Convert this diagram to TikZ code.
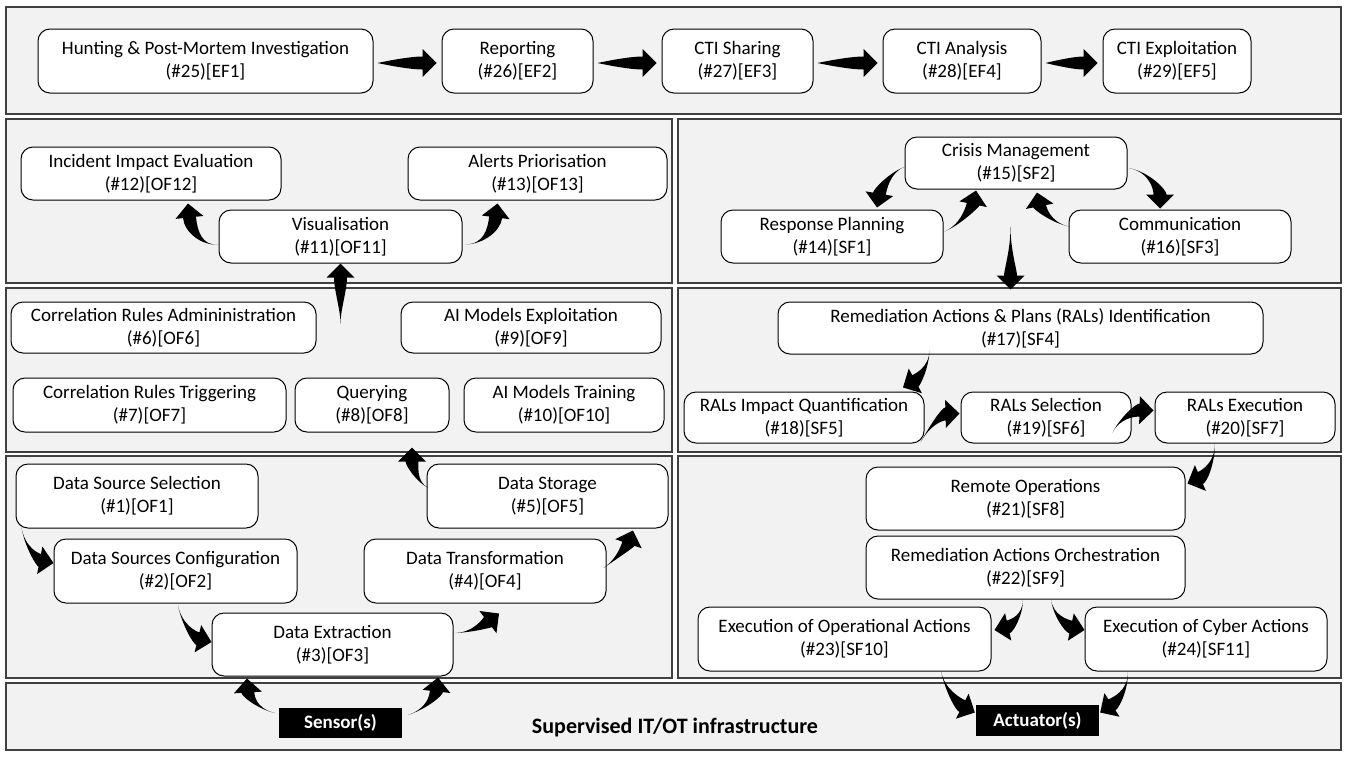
\documentclass[tikz,border=0pt]{standalone}
\usepackage{fontspec}
\setmainfont{Carlito}
\usetikzlibrary{calc}
\def\bw{6.5pt}\def\hl{14pt}\def\hw{14pt}
\newcommand\farr[4]{%
 \coordinate (fT) at (#1); \coordinate (fA) at (#2); \coordinate (fB) at (#3); \coordinate (fP) at (#4);
 \fill[black] let \p1=(fB), \p2=(fP), \n1={atan2(\y2-\y1,\x2-\x1)} in
  (fT) .. controls (fA) and ($(fB)+({\n1+90}:\bw)$) .. ($(fP)+({\n1+180}:\hl)+({\n1+90}:\bw)$)
  -- ($(fP)+({\n1+180}:\hl)+({\n1+90}:\hw)$)
  -- (fP)
  -- ($(fP)+({\n1+180}:\hl)+({\n1-90}:\hw)$)
  -- ($(fP)+({\n1+180}:\hl)+({\n1-90}:\bw)$)
  .. controls ($(fB)+({\n1-90}:\bw)$) and (fA) .. (fT) -- cycle;}
\newcommand\sarr[2]{%
 \coordinate (sT) at (#1); \coordinate (sP) at (#2);
 \farr{sT}{sT}{$(sT)!0.5!(sP)$}{sP}}
\begin{document}
\begin{tikzpicture}[x=1pt,y=-1pt,
  panel/.style={draw=black!75,line width=1.5pt,fill=black!5},
  box/.style={draw=black,line width=1pt,fill=white,rounded corners=12pt,align=center,
    font=\fontsize{19}{23}\selectfont,inner sep=0pt},
  blk/.style={fill=black,text=white,font=\fontsize{19}{22}\selectfont\bfseries,inner sep=0pt,
    minimum width=123pt,minimum height=30pt}]
\useasboundingbox (0,0) rectangle (1346,756);
\fill[white] (0,0) rectangle (1346,756);
% panels
\draw[panel] (6,7) rectangle (1341,114);
\draw[panel] (6,119) rectangle (672,283);
\draw[panel] (678,119) rectangle (1341,283);
\draw[panel] (6,288) rectangle (672,452);
\draw[panel] (678,288) rectangle (1341,452);
\draw[panel] (6,456) rectangle (672,678);
\draw[panel] (678,456) rectangle (1341,678);
\draw[panel] (6,683) rectangle (1341,750);
% top row
\node[box,minimum width=335pt,minimum height=64pt] (hunt) at (205.5,61) {Hunting \& Post-Mortem Investigation\\(\#25)[EF1]};
\node[box,minimum width=151pt,minimum height=64pt] (rep) at (517.5,61) {Reporting\\(\#26)[EF2]};
\node[box,minimum width=151pt,minimum height=64pt] (share) at (737.5,61) {CTI Sharing\\(\#27)[EF3]};
\node[box,minimum width=158pt,minimum height=64pt] (anal) at (962,61) {CTI Analysis\\(\#28)[EF4]};
\node[box,minimum width=148pt,minimum height=64pt] (expl) at (1177,61) {CTI Exploitation\\(\#29)[EF5]};
% row 2 left
\node[box,minimum width=260pt,minimum height=53pt] (incid) at (151,173.5) {Incident Impact Evaluation\\(\#12)[OF12]};
\node[box,minimum width=259pt,minimum height=53pt] (alerts) at (537.5,173.5) {Alerts Priorisation\\(\#13)[OF13]};
\node[box,minimum width=243pt,minimum height=53pt] (vis) at (340.5,236.5) {Visualisation\\(\#11)[OF11]};
% row 2 right
\node[box,minimum width=222pt,minimum height=52pt] (crisis) at (1016,163) {Crisis Management\\(\#15)[SF2]};
\node[box,minimum width=222pt,minimum height=53pt] (resp) at (832,236.5) {Response Planning\\(\#14)[SF1]};
\node[box,minimum width=222pt,minimum height=53pt] (comm) at (1180,236.5) {Communication\\(\#16)[SF3]};
% row 3 left
\node[box,minimum width=305pt,minimum height=51pt] (cradm) at (163.5,327.5) {Correlation Rules Admininistration\\(\#6)[OF6]};
\node[box,minimum width=260pt,minimum height=51pt] (aiexp) at (531,327.5) {AI Models Exploitation\\(\#9)[OF9]};
\node[box,minimum width=273pt,minimum height=54pt] (crtrig) at (149.5,405) {Correlation Rules Triggering\\(\#7)[OF7]};
\node[box,minimum width=154pt,minimum height=54pt] (query) at (372,405) {Querying\\(\#8)[OF8]};
\node[box,minimum width=200pt,minimum height=54pt] (aitrain) at (564,405) {AI Models Training\\(\#10)[OF10]};
% row 3 right
\node[box,minimum width=485pt,minimum height=52pt] (ident) at (1020.5,328) {Remediation Actions \& Plans (RALs) Identification\\(\#17)[SF4]};
\node[box,minimum width=240pt,minimum height=51pt] (impact) at (804,417.5) {RALs Impact Quantification\\(\#18)[SF5]};
\node[box,minimum width=170pt,minimum height=51pt] (select) at (1046,417.5) {RALs Selection\\(\#19)[SF6]};
\node[box,minimum width=180pt,minimum height=51pt] (exec) at (1245,417.5) {RALs Execution\\(\#20)[SF7]};
% row 4 left
\node[box,minimum width=242pt,minimum height=64pt] (dss) at (137,496) {Data Source Selection\\(\#1)[OF1]};
\node[box,minimum width=243pt,minimum height=64pt] (dsc) at (175.5,571) {Data Sources Configuration\\(\#2)[OF2]};
\node[box,minimum width=241pt,minimum height=63pt] (de) at (332.5,644.5) {Data Extraction\\(\#3)[OF3]};
\node[box,minimum width=242pt,minimum height=64pt] (dt) at (485,571) {Data Transformation\\(\#4)[OF4]};
\node[box,minimum width=241pt,minimum height=64pt] (ds) at (547.5,496) {Data Storage\\(\#5)[OF5]};
% row 4 right
\node[box,minimum width=319pt,minimum height=63pt] (remote) at (1025.5,498.5) {Remote Operations\\(\#21)[SF8]};
\node[box,minimum width=319pt,minimum height=63pt] (orch) at (1025.5,567.5) {Remediation Actions Orchestration\\(\#22)[SF9]};
\node[box,minimum width=293pt,minimum height=64pt] (execop) at (844.5,639) {Execution of Operational Actions\\(\#23)[SF10]};
\node[box,minimum width=242pt,minimum height=64pt] (execcy) at (1206,639) {Execution of Cyber Actions\\(\#24)[SF11]};
% bottom
\node[blk] (sensor) at (340.5,723) {Sensor(s)};
\node[blk,minimum height=31pt] (actuator) at (1037.5,720.5) {Actuator(s)};
\node[font=\fontsize{22}{26}\selectfont\bfseries] (infra) at (675,727) {Supervised IT/OT infrastructure};
% top arrows
\sarr{$(hunt.east)+(4,2)$}{$(rep.west)+(-5,2)$}
\sarr{$(rep.east)+(4,2)$}{$(share.west)+(-5,2)$}
\sarr{$(share.east)+(4,2)$}{$(anal.west)+(-5,2)$}
\sarr{$(anal.east)+(4,2)$}{$(expl.west)+(-5,2)$}
% row 2 left
\farr{$(vis.west)+(0,8)$}{202,246}{191,232}{$(incid.south)+(37,3)$}
\farr{$(vis.east)+(3,8)$}{484,244}{494,230}{$(alerts.south)+(-40,3)$}
\farr{$(vis.south)+(0,60)$}{340.5,310}{340.5,290}{vis.south}
% row 2 right
\farr{$(crisis.west)+(0,4)$}{890,172}{880,190}{$(resp.north)+(45,-2)$}
\farr{$(resp.east)+(1,-5)$}{962,224}{973,205}{$(crisis.south)+(-40,1)$}
\farr{$(comm.west)+(0,-10)$}{1050,222}{1040,208}{$(crisis.south)+(21,3)$}
\farr{$(crisis.east)+(1,5)$}{1150,172}{1160,190}{$(comm.north)+(-20,-1)$}
\farr{$(ident.north)+(-10,-75)$}{1010.5,250}{1010.5,270}{$(ident.north)+(-10,-12)$}
% row 3 right
\farr{$(ident.south)+(-91,-4)$}{929,368}{917,380}{$(impact.north)+(99,-4)$}
\farr{$(impact.south east)+(-4,-1)$}{930,425}{942,414}{$(select.west)+(-1,-4)$}
\farr{$(select.south east)+(-19,-11)$}{1120,418}{1135,410}{$(exec.west)+(-1,-7)$}
% row 4 right
\farr{$(exec.south)+(-30,0)$}{1215,462}{1205,476}{$(remote.east)+(2,-15)$}
\farr{$(orch.south)+(-2.5,0)$}{1023,615}{1012,626}{$(execop.east)+(3,-9)$}
\farr{$(orch.south)+(25.5,0)$}{1053,615}{1066,626}{$(execcy.west)+(0,-9)$}
\farr{$(execop.south)+(96.5,0)$}{945,690}{958,704}{$(actuator.west)+(-1,-8)$}
\farr{$(execcy.south)+(-78,0)$}{1128,692}{1115,703}{$(actuator.east)+(1,-8)$}
% row 4 left
\farr{$(dss.south west)+(6,-1)$}{25,548}{38,560}{$(dsc.west)+(0,-8)$}
\farr{$(dsc.south)+(2.5,2)$}{182,625}{195,638}{$(de.west)+(0,-2.5)$}
\farr{$(de.east)+(2,-11.5)$}{475,632}{488,622}{$(dt.south)+(14,10)$}
\farr{$(dt.east)+(-3,-3)$}{618,558}{628,545}{$(ds.south)+(85.5,2)$}
\farr{$(ds.west)+(2,-8)$}{416,482}{412,465}{$(query.south)+(40,15)$}
\farr{$(sensor.west)+(-4,-10)$}{255,708}{248,695}{$(de.south)+(-85.5,2)$}
\farr{$(sensor.east)+(6,-8)$}{428,708}{436,695}{$(de.south)+(105.5,1)$}
\end{tikzpicture}
\end{document}
